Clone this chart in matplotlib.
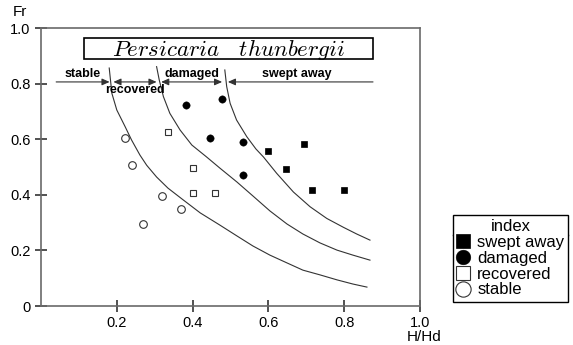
import numpy as np
import matplotlib.pyplot as plt
from matplotlib.patches import Rectangle
from matplotlib.lines import Line2D

plt.rcParams['font.family'] = ['Liberation Sans', 'DejaVu Sans']
plt.rcParams['mathtext.fontset'] = 'cm'

# Datos (H/Hd, Fr)
swept_x = [0.599, 0.646, 0.694, 0.715, 0.800]
swept_y = [0.558, 0.493, 0.583, 0.417, 0.417]

damaged_x = [0.382, 0.477, 0.447, 0.534, 0.534]
damaged_y = [0.723, 0.745, 0.605, 0.590, 0.471]

recovered_x = [0.334, 0.400, 0.400, 0.459]
recovered_y = [0.626, 0.496, 0.406, 0.406]

stable_x = [0.222, 0.240, 0.320, 0.370, 0.269]
stable_y = [0.604, 0.507, 0.396, 0.350, 0.295]

# curvas limite
c1_x = [0.180, 0.187, 0.200, 0.222, 0.239, 0.261, 0.279, 0.305, 0.335, 0.372,
        0.420, 0.472, 0.517, 0.559, 0.604, 0.649, 0.691, 0.736, 0.781, 0.823, 0.860]
c1_y = [0.856, 0.765, 0.705, 0.645, 0.597, 0.543, 0.506, 0.464, 0.424, 0.385,
        0.335, 0.291, 0.252, 0.216, 0.183, 0.155, 0.129, 0.112, 0.094, 0.079, 0.068]

c2_x = [0.305, 0.312, 0.323, 0.340, 0.367, 0.398, 0.437, 0.472, 0.517, 0.559,
        0.604, 0.649, 0.691, 0.736, 0.781, 0.823, 0.868]
c2_y = [0.861, 0.813, 0.753, 0.693, 0.633, 0.579, 0.536, 0.496, 0.446, 0.396,
        0.342, 0.295, 0.259, 0.227, 0.201, 0.183, 0.165]

c3_x = [0.485, 0.490, 0.499, 0.516, 0.543, 0.567, 0.587, 0.622, 0.666, 0.710,
        0.754, 0.798, 0.833, 0.868]
c3_y = [0.849, 0.789, 0.729, 0.669, 0.609, 0.565, 0.536, 0.477, 0.410, 0.357,
        0.315, 0.283, 0.259, 0.237]

# zonas sobre la linea Fr = 0.806
zone_y = 0.806
zone_names = ['stable', 'recovered', 'damaged', 'swept away']
zone_start = [0.040, 0.191, 0.317, 0.493]
zone_end = [0.181, 0.305, 0.478, 0.876]
zone_label_x = [0.110, 0.248, 0.398, 0.675]
zone_label_y = [0.834, 0.776, 0.834, 0.834]

fig = plt.figure(figsize=(5.73, 3.45), dpi=100)
ax = fig.add_axes([41/573, 39/345, 379/573, 278/345])
ax.set_xlim(0, 1)
ax.set_ylim(0, 1)

for s in ax.spines.values():
    s.set_color('#6a6a6a')
    s.set_linewidth(1.2)

ax.set_xticks([0.2, 0.4, 0.6, 0.8, 1.0])
ax.set_xticklabels(['0.2', '0.4', '0.6', '0.8', '1.0'])
ax.set_yticks([0, 0.2, 0.4, 0.6, 0.8, 1.0])
ax.set_yticklabels(['0', '0.2', '0.4', '0.6', '0.8', '1.0'])
ax.tick_params(direction='inout', length=9, width=1.2, color='#333333',
               labelsize=10.5, pad=3)

# curvas
for cx, cy in [(c1_x, c1_y), (c2_x, c2_y), (c3_x, c3_y)]:
    ax.plot(cx, cy, color='#333333', lw=0.8)

# puntos
ax.plot(swept_x, swept_y, 's', color='black', ms=5, mew=0.5, label='swept away')
ax.plot(damaged_x, damaged_y, 'o', color='black', ms=5.3, mew=0.3, label='damaged')
ax.plot(recovered_x, recovered_y, 's', mfc='white', mec='#333333', mew=0.8,
        ms=5, label='recovered')
ax.plot(stable_x, stable_y, 'o', mfc='white', mec='#333333', mew=0.8,
        ms=5.5, label='stable')

# flechas de zonas
for i in range(len(zone_names)):
    if i == 0:
        style = '-|>'
        a, b = zone_start[i], zone_end[i]
    elif i == len(zone_names) - 1:
        style = '-|>'
        a, b = zone_end[i], zone_start[i]
    else:
        style = '<|-|>'
        a, b = zone_start[i], zone_end[i]
    ax.annotate('', xy=(b, zone_y), xytext=(a, zone_y),
                arrowprops=dict(arrowstyle=style + ',head_length=0.45,head_width=0.2',
                                color='#333333', lw=0.8, shrinkA=0, shrinkB=0))
    ax.text(zone_label_x[i], zone_label_y[i], zone_names[i], ha='center',
            va='center', fontsize=9, fontweight='bold')

# titulo en caja
ax.add_patch(Rectangle((0.113, 0.888), 0.763, 0.076, fc='white',
                       ec='black', lw=1.2))
ax.text(0.495, 0.924, r'$Persicaria\ \ \ thunbergii$', ha='center',
        va='center', fontsize=16.5)

fig.text(20/573, 1 - 12/345, 'Fr', ha='center', va='center', fontsize=11)
fig.text(424/573, 1 - 337/345, 'H/Hd', ha='center', va='center', fontsize=11)

leg = fig.legend(loc='upper left', bbox_to_anchor=(453/573, 1 - 215/345),
                 title='index', fontsize=12, title_fontsize=12,
                 markerscale=2.0, handlelength=0.7, handletextpad=0.5,
                 labelspacing=0.05, borderpad=0.25, borderaxespad=0,
                 fancybox=False, edgecolor='black', framealpha=1)
leg.get_frame().set_linewidth(1.0)

fig.canvas.draw()
tb = leg.get_title().get_window_extent()
fb = leg.get_frame().get_window_extent()
ly = tb.y0 - 1
fig.add_artist(Line2D([fb.x0, fb.x1], [ly, ly], transform=None,
                      color='black', lw=1.0))

fig.savefig('out.png', dpi=100)
